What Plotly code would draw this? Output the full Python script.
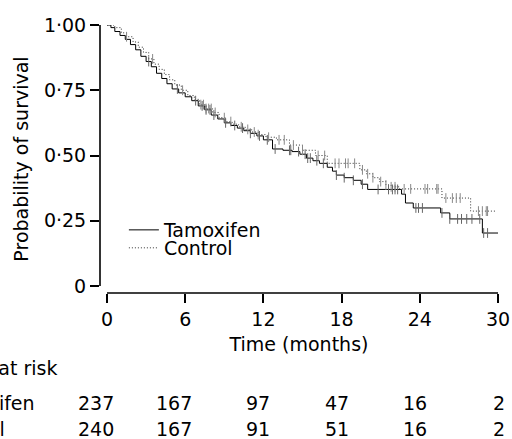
import numpy as np
import plotly.graph_objects as go

# ---- data ----
tam_t = [0, 0.3, 0.6, 1.0, 1.4, 1.8, 2.2, 2.6, 3.0, 3.4, 3.8, 4.2, 4.6, 5.0, 5.5, 6.0, 6.5, 7.0, 7.5,
         8.0, 8.5, 9.0, 9.5, 10.0, 10.5, 11.0, 11.5, 12.0, 12.7, 13.5, 14.2, 14.8, 15.3, 15.8, 16.3,
         16.9, 17.3, 17.6, 18.2, 18.9, 19.5, 20.0, 22.6, 22.9, 23.5, 25.6, 26.3, 28.8, 30.0]
tam_s = [1.0, 0.99, 0.975, 0.96, 0.945, 0.925, 0.905, 0.88, 0.86, 0.84, 0.815, 0.795, 0.775, 0.755,
         0.74, 0.725, 0.71, 0.69, 0.675, 0.655, 0.64, 0.625, 0.615, 0.605, 0.595, 0.585, 0.575, 0.56,
         0.525, 0.52, 0.515, 0.505, 0.49, 0.48, 0.47, 0.455, 0.44, 0.425, 0.415, 0.405, 0.39, 0.37,
         0.352, 0.318, 0.299, 0.28, 0.257, 0.203, 0.203]
tam_cens = [3.2, 5.4, 6.8, 7.3, 7.6, 7.9, 8.2, 9.1, 9.8, 10.4, 11.0, 11.7, 12.3, 12.9, 14.0, 14.1,
            14.7, 15.2, 15.4, 15.6, 16.1, 16.6, 17.6, 18.2, 18.9, 19.6, 20.8, 21.6, 21.9, 22.1, 22.3,
            23.7, 23.9, 24.2, 25.7, 26.3, 26.9, 27.2, 27.6, 28.0, 28.6, 28.9, 29.2]

ctl_t = [0, 0.6, 1.1, 1.5, 2.0, 2.4, 2.8, 3.2, 3.6, 4.0, 4.4, 4.8, 5.2, 5.7, 6.2, 6.7, 7.1, 7.6, 8.1,
         8.6, 9.1, 9.6, 10.1, 10.6, 11.1, 11.6, 12.2, 13.0, 14.0, 15.0, 16.0, 16.9, 19.4, 19.9, 20.4,
         20.9, 21.4, 21.8, 22.4, 25.7, 27.9, 29.8]
ctl_s = [1.0, 0.99, 0.97, 0.955, 0.935, 0.915, 0.895, 0.87, 0.85, 0.83, 0.81, 0.79, 0.77, 0.75,
         0.73, 0.715, 0.695, 0.68, 0.665, 0.645, 0.63, 0.62, 0.61, 0.6, 0.59, 0.58, 0.57, 0.56, 0.54,
         0.52, 0.5, 0.47, 0.445, 0.43, 0.415, 0.40, 0.387, 0.38, 0.372, 0.337, 0.287, 0.287]
ctl_cens = [1.5, 3.5, 5.8, 7.2, 7.4, 7.6, 7.8, 8.0, 8.3, 9.0, 9.5, 10.3, 10.8, 11.3, 11.6, 12.4,
            13.2, 13.6, 14.3, 15.0, 16.2, 16.7, 17.5, 17.8, 18.3, 18.5, 19.0, 19.6, 20.0, 20.4,
            21.0, 21.4, 21.8, 22.1, 22.8, 23.3, 24.4, 24.6, 25.3, 25.4, 26.0, 26.5, 26.8, 27.1,
            28.5, 28.8, 29.1, 29.2]

x_ticks = [0, 6, 12, 18, 24, 30]
y_ticks = [0, 0.25, 0.5, 0.75, 1.0]
y_ticktext = ["0", "0·25", "0·50", "0·75", "1·00"]
risk_tam = [237, 167, 97, 47, 16, 2]
risk_ctl = [240, 167, 91, 51, 16, 2]

FONT = "DejaVu Sans"
FS = 19


def step_at(ts, ss, q):
    idx = np.searchsorted(np.asarray(ts), np.asarray(q), side="right") - 1
    return np.asarray(ss)[idx]


fig = go.Figure()
fig.add_trace(go.Scatter(x=tam_t, y=tam_s, mode="lines", line=dict(shape="hv", color="black", width=1),
                         name="Tamoxifen", legend="legend"))
fig.add_trace(go.Scatter(x=ctl_t, y=ctl_s, mode="lines",
                         line=dict(shape="hv", color="#333", width=1, dash="1px,2px"),
                         name="Control", legend="legend2"))
fig.add_trace(go.Scatter(x=tam_cens, y=step_at(tam_t, tam_s, tam_cens), mode="markers", showlegend=False,
                         marker=dict(symbol="line-ns", size=7, line=dict(color="#666", width=1))))
fig.add_trace(go.Scatter(x=ctl_cens, y=step_at(ctl_t, ctl_s, ctl_cens), mode="markers", showlegend=False,
                         marker=dict(symbol="line-ns", size=7, line=dict(color="#888", width=1))))

# detached axis lines
fig.add_shape(type="line", xref="paper", yref="y", x0=0, x1=0, y0=0, y1=1, line=dict(color="black", width=1.6))
fig.add_shape(type="line", xref="x", yref="paper", x0=0, x1=30, y0=0, y1=0, line=dict(color="black", width=1.6))

txt = dict(family=FONT, size=FS, color="black")
# number at risk table
fig.add_annotation(text="Number at risk", xref="paper", yref="paper", x=0, y=0, xanchor="right", yanchor="middle",
                   xshift=-40, yshift=-75, showarrow=False, font=txt)
fig.add_annotation(text="Tamoxifen", xref="paper", yref="paper", x=0, y=0, xanchor="right", yanchor="middle",
                   xshift=-63, yshift=-110, showarrow=False, font=txt)
fig.add_annotation(text="Control", xref="paper", yref="paper", x=0, y=0, xanchor="right", yanchor="middle",
                   xshift=-93, yshift=-136, showarrow=False, font=txt)
for xt, a, b in zip(x_ticks, risk_tam, risk_ctl):
    fig.add_annotation(text=str(a), xref="x", yref="paper", x=xt, y=0, xanchor="right", yanchor="middle",
                       xshift=9, yshift=-110, showarrow=False, font=txt)
    fig.add_annotation(text=str(b), xref="x", yref="paper", x=xt, y=0, xanchor="right", yanchor="middle",
                       xshift=9, yshift=-136, showarrow=False, font=txt)

leg = dict(xanchor="left", yanchor="middle", bgcolor="rgba(0,0,0,0)", font=txt, itemwidth=30)
fig.update_layout(
    width=512, height=439,
    margin=dict(l=100, r=14, t=25, b=146),
    plot_bgcolor="white", paper_bgcolor="white",
    font=txt,
    showlegend=True,
    legend=dict(x=0.06, y=0.235, **leg),
    legend2=dict(x=0.06, y=0.168, **leg),
    xaxis=dict(range=[-0.537, 30], tickvals=x_ticks, ticks="outside", ticklen=9, tickwidth=1.5,
               tickcolor="black", showgrid=False, zeroline=False, showline=False, automargin=False,
               title=dict(text="Time (months)", font=txt, standoff=8)),
    yaxis=dict(range=[-0.0268, 1], tickvals=y_ticks, ticktext=y_ticktext, ticks="outside", ticklen=9,
               tickwidth=1.5, tickcolor="black", showgrid=False, zeroline=False, showline=False,
               automargin=False, title=dict(text="Probability of survival", font=txt, standoff=10)),
)

fig.write_html("out.html", config={"displayModeBar": False},
               post_script="document.body.style.margin='0';document.body.style.overflow='hidden';")
